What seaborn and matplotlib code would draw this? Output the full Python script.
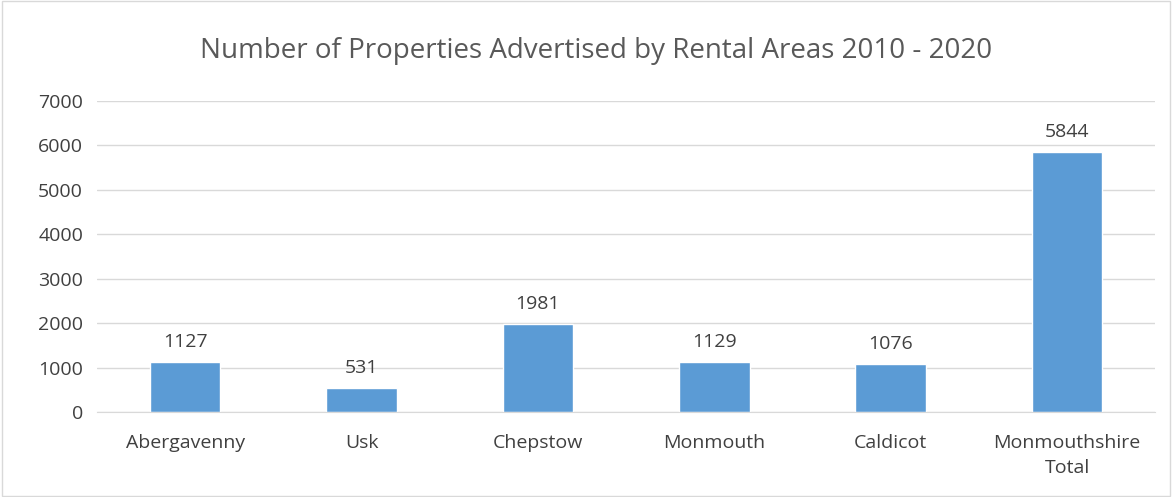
import matplotlib
matplotlib.use("Agg")
import matplotlib.pyplot as plt
import seaborn as sns
import pandas as pd

areas = ["Abergavenny", "Usk", "Chepstow", "Monmouth", "Caldicot", "Monmouthshire\nTotal"]
properties = [1127, 531, 1981, 1129, 1076, 5844]

sns.set_style("white")
plt.rcParams["font.family"] = ["Open Sans", "DejaVu Sans"]

df = pd.DataFrame({"area": areas, "count": properties})

fig = plt.figure(figsize=(11.72, 4.97), dpi=100)
ax = fig.add_axes([0.0827, 0.171, 0.903, 0.626])
sns.barplot(data=df, x="area", y="count", color="#5B9BD5", width=0.4,
            saturation=1, ax=ax)

text_color = "#404040"
ax.set_ylim(0, 7000)
ax.set_yticks(range(0, 7001, 1000))
ax.yaxis.grid(True, color="#D9D9D9", linewidth=1)
ax.set_axisbelow(True)
for s in ["top", "right", "left"]:
    ax.spines[s].set_visible(False)
ax.spines["bottom"].set_color("#D9D9D9")
ax.tick_params(axis="y", length=0, labelsize=14, colors=text_color, pad=10)
ax.tick_params(axis="x", length=0, labelsize=14, colors=text_color, pad=16)
for lbl in ax.get_xticklabels():
    lbl.set_linespacing(1.45)
ax.set_xlabel("")
ax.set_ylabel("")

for i, v in enumerate(properties):
    ax.text(i, v + 250, str(v), ha="center", va="bottom", fontsize=14, color=text_color)

fig.text(0.509, 0.898, "Number of Properties Advertised by Rental Areas 2010 - 2020",
         ha="center", va="center", fontsize=20, color="#595959")

border = plt.Rectangle((0.002, 0.002), 0.996, 0.996, transform=fig.transFigure,
                       fill=False, edgecolor="#D9D9D9", linewidth=1)
fig.patches.append(border)

fig.savefig("out.png", dpi=100, facecolor="white")
